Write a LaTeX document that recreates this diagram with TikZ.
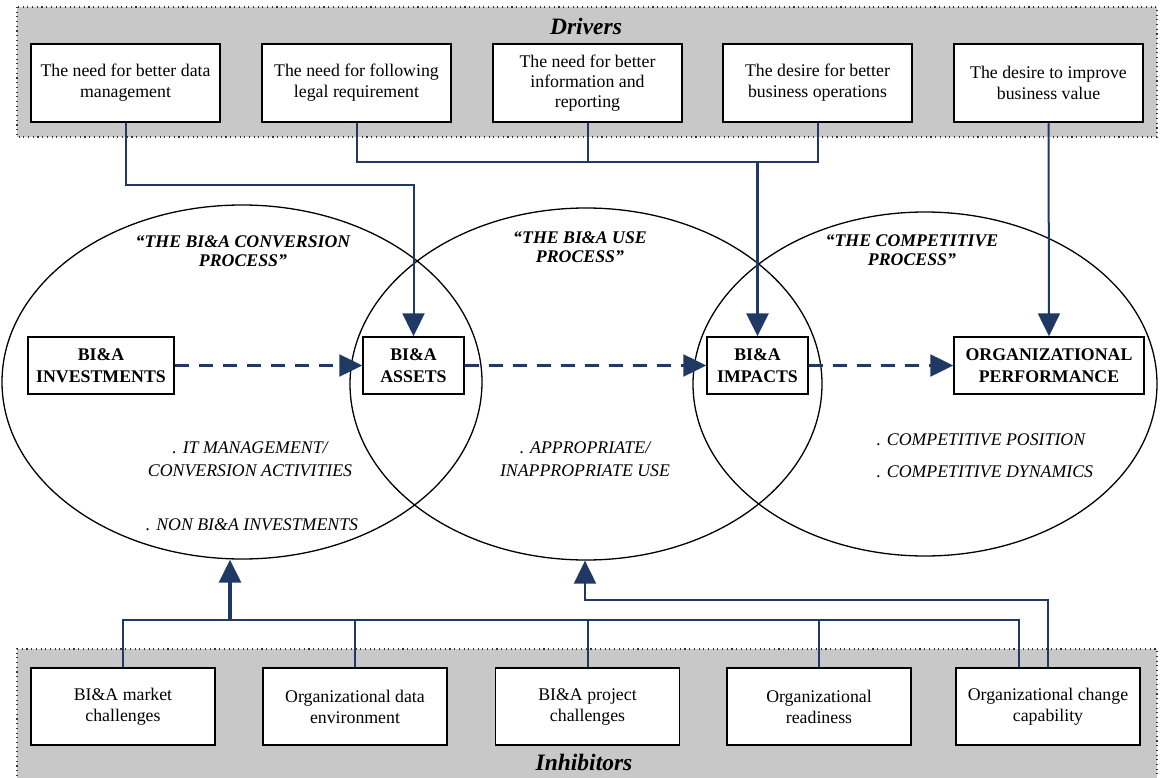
\documentclass[tikz,border=0pt]{standalone}
\usepackage{fontspec}
\setmainfont{Liberation Serif}
\usetikzlibrary{arrows.meta,shapes.geometric}
\definecolor{navy}{RGB}{31,56,100}
\definecolor{bandgray}{RGB}{200,200,200}

\begin{document}
\begin{tikzpicture}[x=1pt,y=-1pt,
  txt/.style={font=\fontsize{17.8}{21}\selectfont},
  bandline/.style={draw=black!80, line width=1.1pt, dash pattern=on 1.1pt off 3.6pt},
  factor/.style={txt, draw=black, line width=1.4pt, fill=white, align=center,
                 inner sep=0pt, minimum height=78pt},
  stage/.style={font=\fontsize{17.8}{22}\selectfont\bfseries, draw=black, line width=1.4pt,
                fill=white, align=center, inner sep=0pt, minimum height=57pt},
  process/.style={ellipse, draw=black, line width=1.3pt, inner sep=0pt},
  ptitle/.style={font=\fontsize{17.8}{19}\selectfont\bfseries\itshape, align=center},
  pitem/.style={font=\fontsize{17.8}{23}\selectfont\itshape, align=center},
  bandtitle/.style={font=\fontsize{23.5}{26}\selectfont\bfseries\itshape},
  link/.style={draw=navy, line width=2pt},
  trunk/.style={draw=navy, line width=3.2pt},
  tip/.style={-{Triangle[length=23pt,width=22pt]}},
  flow/.style={draw=navy, line width=2.3pt, dash pattern=on 14pt off 10pt,
               -{Triangle[length=23pt,width=22pt]}}
]
\useasboundingbox (0,0) rectangle (1161,778);

% shaded bands
\fill[bandgray] (17,7) rectangle (1157,137);
\draw[bandline] (17,7) rectangle (1157,137);
\fill[bandgray] (17,649) rectangle (1157,790);
\draw[bandline] (17,790) -- (17,649) -- (1157,649) -- (1157,790);

\node[bandtitle] (drivers) at (586,26) {Drivers};
\node[bandtitle] (inhibitors) at (584,762) {Inhibitors};

% the three processes
\node[process, minimum width=480pt, minimum height=354pt] (e1) at (242,382) {};
\node[process, minimum width=472pt, minimum height=352pt] (e2) at (586,384) {};
\node[process, minimum width=464pt, minimum height=344pt] (e3) at (925,384) {};

\node[ptitle] (t1) at (243,251) {“THE BI\&A CONVERSION\\PROCESS”};
\node[ptitle] (t2) at (580,247) {“THE BI\&A USE\\PROCESS”};
\node[ptitle] (t3) at (912,250) {“THE COMPETITIVE\\PROCESS”};

\node[pitem] (p1) at (250,459) {. IT MANAGEMENT/\\CONVERSION ACTIVITIES};
\node[pitem] (p2) at (252,525) {. NON BI\&A INVESTMENTS};
\node[pitem] (p3) at (585,459) {. APPROPRIATE/\\INAPPROPRIATE USE};
\node[pitem, anchor=west] (p4) at (873,440) {. COMPETITIVE POSITION};
\node[pitem, anchor=west] (p5) at (873,472) {. COMPETITIVE DYNAMICS};

% drivers
\node[factor, minimum width=189pt] (d1) at (125.5,83) {The need for better data\\management};
\node[factor, minimum width=189pt] (d2) at (356.5,83) {The need for following\\legal requirement};
\node[factor, minimum width=189pt, font=\fontsize{17.8}{20}\selectfont] (d3) at (587.5,83) {The need for better\\information and\\reporting};
\node[factor, minimum width=189pt] (d4) at (817.5,83) {The desire for better\\business operations};
\node[factor, minimum width=189pt] (d5) at (1048.5,83) {The desire to improve\\business value};

% inhibitors
\node[factor, minimum width=184pt, minimum height=77pt] (i1) at (123,706.5) {BI\&A market\\challenges};
\node[factor, minimum width=184pt, minimum height=77pt] (i2) at (355,706.5) {Organizational data\\environment};
\node[factor, minimum width=184pt, minimum height=77pt] (i3) at (587.5,706.5) {BI\&A project\\challenges};
\node[factor, minimum width=184pt, minimum height=77pt] (i4) at (819,706.5) {Organizational\\readiness};
\node[factor, minimum width=184pt, minimum height=77pt] (i5) at (1048,706.5) {Organizational change\\capability};

% stages
\node[stage, minimum width=146pt] (inv) at (101,365.5) {BI\&A\\INVESTMENTS};
\node[stage, minimum width=101pt] (assets) at (413.5,365.5) {BI\&A\\ASSETS};
\node[stage, minimum width=101pt] (impacts) at (757.5,365.5) {BI\&A\\IMPACTS};
\node[stage, minimum width=190pt] (perf) at (1049,365.5) {ORGANIZATIONAL\\PERFORMANCE};

% stage flow
\draw[flow] (inv) -- (assets);
\draw[flow] (assets) -- (impacts);
\draw[flow] (impacts) -- (perf);

% driver connectors
\coordinate (ja) at (125.5,185);
\coordinate (jb) at (757.5,162);
\draw[link, tip] (d1.south) -- (ja) -| (assets.north);
\draw[link] (d2.south) |- (jb);
\draw[link] (d4.south) |- (jb);
\draw[link] (d3.south) -- (d3.south |- jb);
\draw[trunk, tip] (jb) -- (impacts.north);
\draw[link, tip] (d5.south) -- (perf.north);

% inhibitor connectors
\coordinate (ka) at (230,620);
\coordinate (kb) at (1019,620);
\coordinate (kc) at (585,600);
\draw[link] (i1.north) |- (kb) -- (kb |- i5.north);
\draw[link] (i2.north) -- (i2.north |- ka);
\draw[link] (i3.north) -- (i3.north |- ka);
\draw[link] (i4.north) -- (i4.north |- ka);
\draw[trunk, tip] (ka) -- (ka |- e1.south);
\draw[link, tip] (i5.north) |- (kc) -- (kc |- e2.south);
\end{tikzpicture}
\end{document}
